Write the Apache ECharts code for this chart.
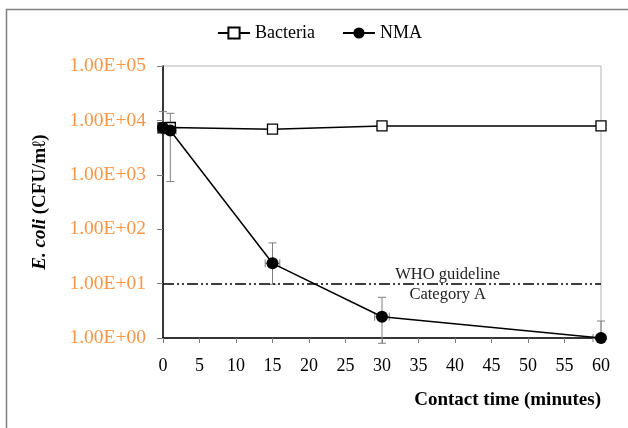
<!DOCTYPE html>
<html>
<head>
<meta charset="utf-8">
<title>E. coli vs contact time</title>
<script src="https://cdn.jsdelivr.net/npm/echarts@6/dist/echarts.min.js"></script>
<style>
  html, body { margin: 0; padding: 0; background: #fff; }
  #chart { width: 628px; height: 428px; }
</style>
</head>
<body>
<div id="chart"></div>
<script>
// contact time (minutes) of each sampling point
const timeMin = [0, 1, 15, 30, 60];
// E. coli counts (CFU/ml)
const bacteria = [7300, 7400, 6900, 7900, 7900];
const nma = [7300, 6500, 23.6, 2.46, 1.0];
// error bars of the NMA series (y low / y high, time low / time high)
const nmaLow = [7300, 750, 9.7, 0.8, 1.0];
const nmaHigh = [14500, 13500, 56, 5.6, 2.05];
const timeLow = [0, 0.2, 14, 29, 58.9];
const timeHigh = [0, 1.8, 16, 31, 60];
// WHO guideline, category A
const whoLimit = 10;
const whoLabelAt = 39;

const serif = "'Liberation Serif', 'Times New Roman', serif";
const barColor = '#7f7f7f';

// 1 -> "1.00E+00"
function sciLabel(v) {
    const parts = v.toExponential(2).toUpperCase().split('E');
    const exp = parseInt(parts[1], 10);
    return parts[0] + 'E' + (exp < 0 ? '-' : '+') + String(Math.abs(exp)).padStart(2, '0');
}

const errRows = timeMin.map((t, i) => [t, timeLow[i], timeHigh[i], nmaLow[i], nmaHigh[i], nma[i]]);

function renderErrorBar(params, api) {
    const x = api.value(0), y = api.value(5);
    const cap = 4;
    const style = { stroke: barColor, lineWidth: 1 };
    const kids = [];
    const line = (x1, y1, x2, y2) => kids.push({ type: 'line', shape: { x1, y1, x2, y2 }, style });
    const pLo = api.coord([x, api.value(3)]);
    const pHi = api.coord([x, api.value(4)]);
    const pL = api.coord([api.value(1), y]);
    const pR = api.coord([api.value(2), y]);
    line(pLo[0], pLo[1], pHi[0], pHi[1]);
    if (api.value(3) !== y) line(pLo[0] - cap, pLo[1], pLo[0] + cap, pLo[1]);
    if (api.value(4) !== y) line(pHi[0] - cap, pHi[1], pHi[0] + cap, pHi[1]);
    line(pL[0], pL[1], pR[0], pR[1]);
    if (api.value(1) !== x) line(pL[0], pL[1] - cap, pL[0], pL[1] + cap);
    if (api.value(2) !== x) line(pR[0], pR[1] - cap, pR[0], pR[1] + cap);
    return { type: 'group', children: kids };
}

function renderWhoText(params, api) {
    const p = api.coord([api.value(0), api.value(1)]);
    const font = { fill: '#222', fontFamily: serif, fontSize: 16.5, align: 'center', verticalAlign: 'middle' };
    return {
        type: 'group',
        children: [
            { type: 'text', x: p[0], y: p[1] - 9, style: Object.assign({ text: 'WHO guideline' }, font) },
            { type: 'text', x: p[0], y: p[1] + 11, style: Object.assign({ text: 'Category A' }, font) }
        ]
    };
}

const chart = echarts.init(document.getElementById('chart'), null, { renderer: 'canvas' });

chart.setOption({
    animation: false,
    backgroundColor: '#fff',
    textStyle: { fontFamily: serif },
    graphic: [{
        type: 'rect', silent: true,
        shape: { x: 6.5, y: 9.5, width: 700, height: 600 },
        style: { fill: null, stroke: '#808080', lineWidth: 1.5 }
    }],
    legend: {
        data: ['Bacteria', 'NMA'],
        left: 217, top: 24, padding: 0,
        itemWidth: 32, itemHeight: 14, itemGap: 27,
        textStyle: { fontFamily: serif, fontSize: 18, color: '#000' }
    },
    grid: { left: 163, right: 27, top: 66, bottom: 90, show: true, borderColor: '#b3b3b3', borderWidth: 1 },
    xAxis: {
        type: 'value', min: 0, max: 60, interval: 5,
        name: 'Contact time (minutes)', nameLocation: 'end', nameGap: 0,
        nameTextStyle: { fontFamily: serif, fontSize: 19, fontWeight: 'bold', color: '#000', align: 'right', verticalAlign: 'top', padding: [53, 0, 0, 0] },
        axisLine: { lineStyle: { color: '#000', width: 1.5 } },
        axisTick: { show: true, length: 5, lineStyle: { color: barColor } },
        axisLabel: { color: '#000', fontSize: 18, margin: 19, fontFamily: serif },
        splitLine: { show: false }
    },
    yAxis: {
        type: 'log', logBase: 10, min: 1, max: 100000,
        name: '{i|E. coli} (CFU/mℓ)', nameLocation: 'middle', nameGap: 113, nameRotate: 90,
        nameTextStyle: {
            fontFamily: serif, fontSize: 19, fontWeight: 'bold', color: '#000',
            rich: { i: { fontFamily: serif, fontSize: 19, fontWeight: 'bold', fontStyle: 'italic', color: '#000' } }
        },
        axisLine: { show: true, lineStyle: { color: '#000', width: 1.5 } },
        axisTick: { show: true, length: 6, lineStyle: { color: barColor } },
        axisLabel: { color: '#f79646', fontSize: 19.5, margin: 17, fontFamily: serif, formatter: sciLabel },
        splitLine: { show: false },
        minorTick: { show: false }
    },
    series: [
        {
            type: 'custom', name: 'errors', z: 1,
            renderItem: renderErrorBar,
            encode: { x: 0, y: 5 },
            data: errRows,
            silent: true
        },
        {
            name: 'Bacteria', type: 'line', z: 2,
            data: timeMin.map((t, i) => [t, bacteria[i]]),
            symbol: 'rect', symbolSize: 10,
            itemStyle: { color: '#fff', borderColor: '#000', borderWidth: 1.3 },
            lineStyle: { color: '#000', width: 1.5 },
            markLine: {
                silent: true, symbol: 'none',
                label: { show: false },
                lineStyle: { color: '#000', width: 1.5, type: [11, 3, 2, 3, 2, 3] },
                data: [{ yAxis: whoLimit }]
            }
        },
        {
            name: 'NMA', type: 'line', z: 3,
            data: timeMin.map((t, i) => [t, nma[i]]),
            symbol: 'circle', symbolSize: 12,
            itemStyle: { color: '#000' },
            lineStyle: { color: '#000', width: 1.5 }
        },
        {
            type: 'custom', name: 'who', z: 4, silent: true,
            renderItem: renderWhoText,
            encode: { x: 0, y: 1 },
            data: [[whoLabelAt, whoLimit]]
        }
    ]
});
</script>
</body>
</html>
